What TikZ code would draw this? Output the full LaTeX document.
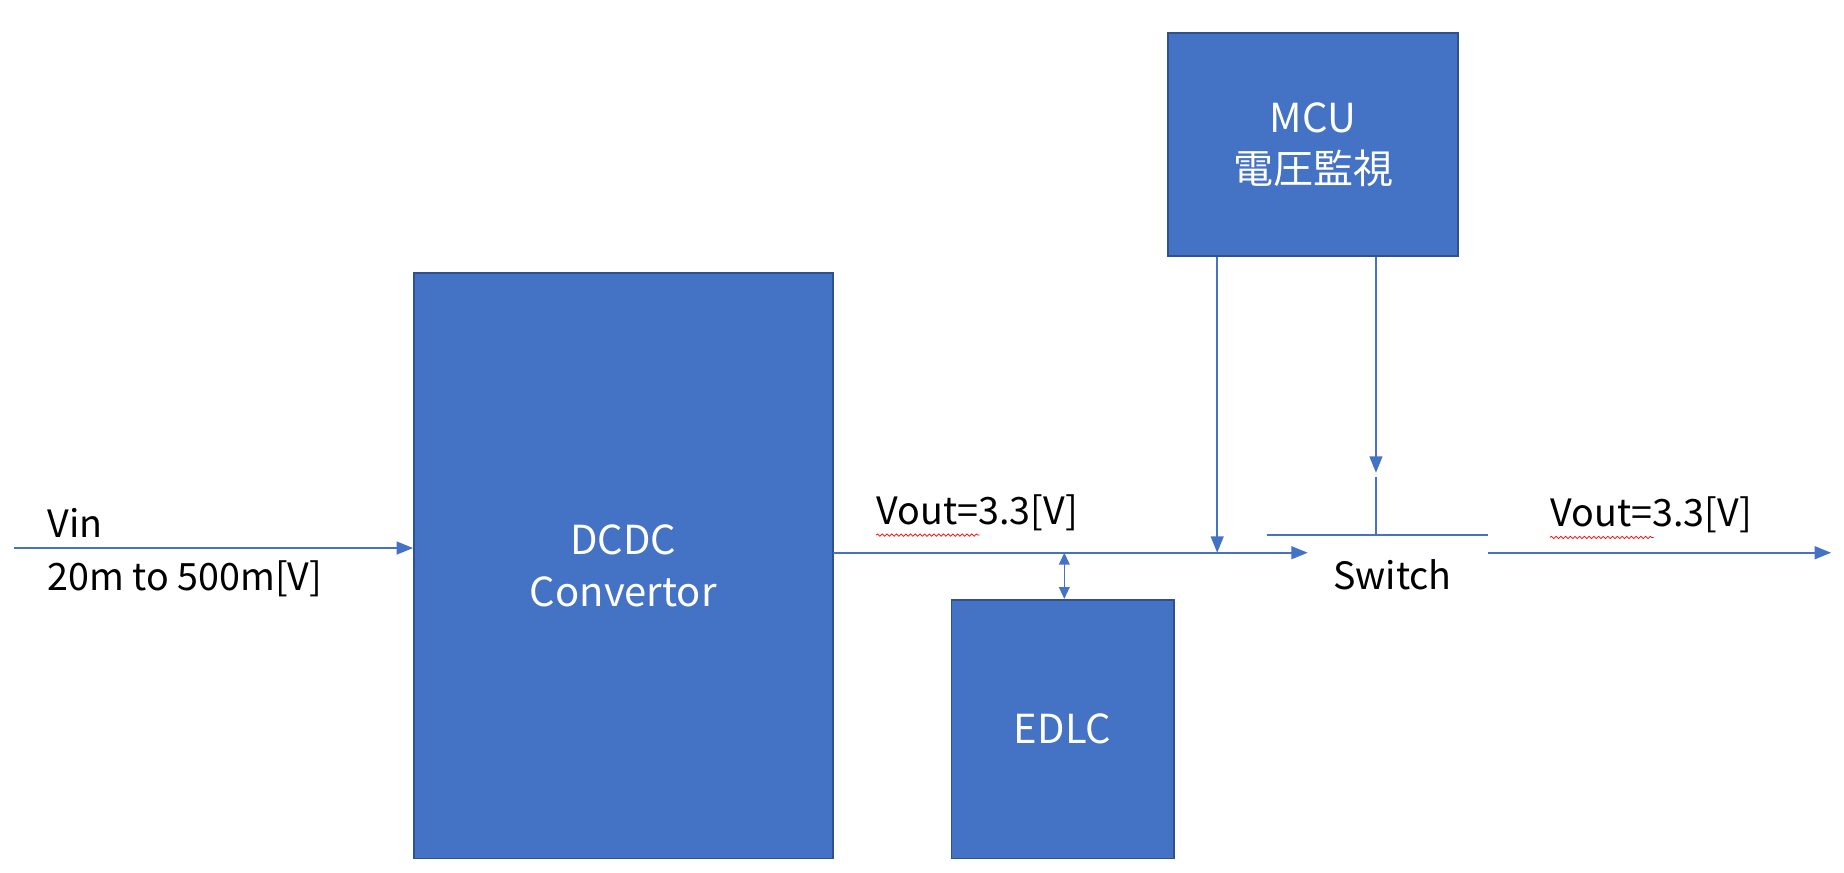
\documentclass[tikz,border=0pt]{standalone}
\usepackage{fontspec}
\setmainfont{Noto Sans CJK JP}
\usetikzlibrary{arrows.meta,decorations.pathmorphing}
\definecolor{boxfill}{RGB}{68,114,196}
\definecolor{boxline}{RGB}{47,82,143}
\tikzset{every picture/.style={line width=1.2pt},
  blockbox/.style={draw=boxline,fill=boxfill,line width=1.5pt,text=white,align=center,inner sep=0pt,font=\fontsize{34}{44}\selectfont},
  wire/.style={draw=boxfill,line width=1.3pt},
  wirearrow/.style={wire,-{Triangle[length=14pt,width=11pt]}},
  label/.style={inner sep=0pt,font=\fontsize{32}{44}\selectfont},
  spell/.style={draw=red,line width=0.6pt,decorate,decoration={snake,amplitude=1pt,segment length=4pt}}}
\begin{document}
\begin{tikzpicture}[x=1pt,y=1pt,yscale=-1,xscale=1]
\useasboundingbox (0,0) rectangle (1568,742);

% Blocks
\node[blockbox,minimum width=356pt,minimum height=498pt] (dcdc) at (530,481) {DCDC\\Convertor};
\node[blockbox,minimum width=189pt,minimum height=220pt] (edlc) at (903.5,620) {EDLC};
\node[blockbox,minimum width=247pt,minimum height=190pt] (mcu) at (1116.5,123) {MCU\\電圧監視};

% Coordinates
\coordinate (vin) at (12,466);
\coordinate (dcdcout) at (708,470);
\coordinate (swin) at (1112,470);
\coordinate (swout) at (1265,470);
\coordinate (vout) at (1557,470);
\coordinate (sense) at (1035,470);
\coordinate (capjoin) at (905,470);
\coordinate (ctrl) at (1170,402);
\coordinate (ctrltop) at (1170,406);
\coordinate (barleft) at (1077,455);
\coordinate (barright) at (1265,455);
\coordinate (barmid) at (1170,455);

% Wires
\draw[wirearrow] (vin) -- (vin -| dcdc.west);
\draw[wirearrow] (dcdcout) -- (swin);
\draw[wire,{Triangle[length=10pt,width=9pt]}-{Triangle[length=10pt,width=9pt]}] (capjoin) -- (capjoin |- edlc.north);
\draw[wirearrow] (mcu.south -| sense) -- (sense);
\draw[wirearrow] (mcu.south -| ctrl) -- (ctrl);
\draw[wire] (ctrltop) -- (barmid);
\draw[wire] (barleft) -- (barright);
\draw[wirearrow] (swout) -- (vout);

% Text Nodes
\node[label,anchor=west] (vinlbl) at (40,445) {Vin};
\node[label,anchor=west] (rangelbl) at (40,492) {20m to 500m[V]};
\node[label,anchor=west] (voutlbl) at (745,436) {Vout=3.3[V]};
\node[label,anchor=west] (voutlbl2) at (1318,438) {Vout=3.3[V]};
\node[label] (swlbl) at (1184,489) {Switch};
\draw[spell] (745,455) -- (833,455);
\draw[spell] (1318,457) -- (1406,457);

\end{tikzpicture}
\end{document}
